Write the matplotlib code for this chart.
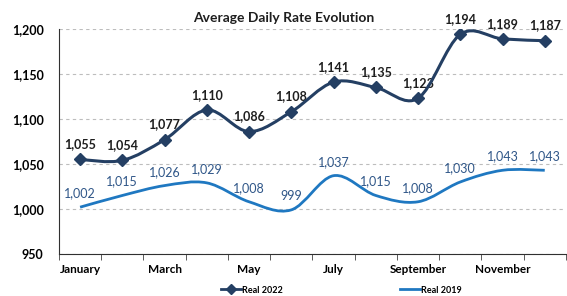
import numpy as np
import matplotlib.pyplot as plt
from matplotlib.path import Path
from matplotlib.patches import PathPatch
from matplotlib.lines import Line2D

plt.rcParams["font.family"] = ["Lato", "DejaVu Sans"]

months = ["January", "February", "March", "April", "May", "June",
          "July", "August", "September", "October", "November", "December"]
real_2022 = [1055, 1054, 1077, 1110, 1086, 1108, 1141, 1135, 1123, 1194, 1189, 1187]
real_2019 = [1002, 1015, 1026, 1029, 1008, 999, 1037, 1015, 1008, 1030, 1043, 1043]

c22 = "#243f63"
c19 = "#1f78c1"


def smooth_path(xs, ys):
    # Excel-style smoothed line: Catmull-Rom as cubic Bezier segments
    pts = np.column_stack([xs, ys]).astype(float)
    n = len(pts)
    verts = [pts[0]]
    codes = [Path.MOVETO]
    for i in range(n - 1):
        p0 = pts[i - 1] if i > 0 else pts[i]
        p1 = pts[i]
        p2 = pts[i + 1]
        p3 = pts[i + 2] if i + 2 < n else pts[i + 1]
        verts += [p1 + (p2 - p0) / 6, p2 - (p3 - p1) / 6, p2]
        codes += [Path.CURVE4] * 3
    return Path(verts, codes)


fig = plt.figure(figsize=(5.67, 2.96), dpi=100)
ax = fig.add_axes([0.104, 0.142, 0.894, 0.760])

x = np.arange(len(months))

ax.add_patch(PathPatch(smooth_path(x, real_2019), fill=False, color=c19, lw=2.0, zorder=3))
ax.add_patch(PathPatch(smooth_path(x, real_2022), fill=False, color=c22, lw=2.2, zorder=4))
ax.plot(x, real_2022, ls="none", marker="D", ms=6, color=c22, zorder=5)

for xi, v in zip(x, real_2022):
    ax.annotate(f"{v:,}", (xi, v), xytext=(0, 11), textcoords="offset points",
                ha="center", va="center", fontsize=9, fontweight="bold", color="#1e1e1e")
for xi, v in zip(x, real_2019):
    ax.annotate(f"{v:,}", (xi, v), xytext=(0, 10), textcoords="offset points",
                ha="center", va="center", fontsize=9, color="#2f5688")

ax.set_xlim(-0.5, 11.5)
ax.set_ylim(950, 1200)
ax.set_yticks(range(950, 1201, 50))
ax.set_yticklabels([f"{v:,}" for v in range(950, 1201, 50)], fontsize=9, fontweight="bold")
ax.set_xticks(x[::2])
ax.set_xticklabels(months[::2], fontsize=8.5, fontweight="bold")
ax.set_xticks(np.arange(-0.5, 12, 1), minor=True)
ax.tick_params(axis="x", which="major", length=0, pad=7)
ax.tick_params(axis="x", which="minor", length=4, direction="out", color="#404040")
ax.tick_params(axis="y", length=0, pad=11)

ax.grid(axis="y", ls=(0, (3, 3)), color="#bdbdbd", lw=0.8)
ax.set_axisbelow(True)
for s in ["top", "right"]:
    ax.spines[s].set_visible(False)
ax.spines["left"].set_color("#303030")
ax.spines["bottom"].set_color("#303030")

fig.text(0.5, 0.94, "Average Daily Rate Evolution", ha="center", va="center",
         fontsize=10, fontweight="bold", color="#1e1e1e")

handles = [Line2D([], [], color=c22, lw=2, marker="D", ms=5),
           Line2D([], [], color=c19, lw=2)]
fig.legend(handles, ["Real 2022", "Real 2019"], loc="center", bbox_to_anchor=(0.602, 0.02),
           ncol=2, frameon=False, columnspacing=13, handlelength=2.2, handletextpad=0.1,
           prop={"size": 6.5, "weight": "bold"})

fig.savefig("out.png", dpi=100)
